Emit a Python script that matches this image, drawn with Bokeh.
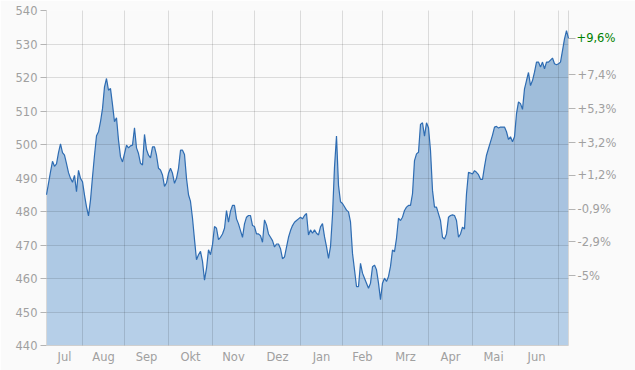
import numpy as np
import pandas as pd
from bokeh.plotting import figure
from bokeh.models import FixedTicker, LinearAxis, Range1d, CustomJSTickFormatter
from bokeh.embed import file_html
from bokeh.resources import INLINE

# ---------------- data ----------------
start_date = "2020-07-08"
end_date = "2021-07-08"
month_names = ["Jan", "Feb", "Mrz", "Apr", "Mai", "Jun", "Jul", "Aug", "Sep", "Okt", "Nov", "Dez"]

close = [
    # Jul 2020
    485.0, 488.4, 491.8, 495.0, 493.5, 494.2, 497.6, 500.2, 497.6, 496.8,
    494.3, 491.6, 489.9, 488.7, 490.8, 485.9, 492.3, 489.9,
    # Aug
    488.9, 484.9, 481.4, 478.7, 483.4, 490.3, 496.8, 502.6, 503.8, 506.8,
    510.7, 517.2, 519.7, 516.2, 516.7, 511.9, 506.8, 508.0, 501.3, 496.3, 494.8,
    # Sep
    497.3, 499.8, 499.0, 499.6, 499.8, 505.0, 499.0, 497.3, 494.4, 493.9,
    503.0, 498.5, 496.8, 496.0, 499.3, 499.3, 496.8, 492.9, 492.4, 490.9, 487.5, 488.5,
    # Oct
    491.4, 492.9, 491.4, 488.4, 489.9, 492.9, 498.3, 498.3, 497.0, 489.9,
    485.0, 483.0, 478.0, 471.6, 465.6, 467.1, 468.1, 465.1, 459.5, 463.0, 468.6, 467.1,
    # Nov
    470.1, 475.5, 475.0, 471.6, 472.3, 473.3, 475.0, 480.3, 476.8, 480.1,
    481.8, 481.8, 477.8, 476.3, 474.3, 472.3, 476.3, 478.3, 478.8, 478.8, 475.8,
    # Dec
    475.5, 473.3, 473.3, 472.8, 470.8, 477.5, 476.0, 473.3, 472.3, 471.3,
    469.4, 470.3, 470.3, 468.9, 465.9, 466.4, 469.4, 472.3, 474.3, 475.8,
    476.8, 477.3, 477.8,
    # Jan 2021
    478.3, 477.8, 478.8, 479.4, 473.0, 474.5, 473.5, 474.5, 473.5, 473.0,
    475.4, 476.4, 472.5, 469.5, 466.0, 469.5, 478.9, 493.3, 502.5, 487.8, 482.9,
    # Feb
    482.4, 481.4, 480.4, 479.9, 476.9, 467.5, 462.6, 457.6, 457.6, 464.5,
    461.6, 460.1, 458.6, 457.1, 458.6, 463.5, 464.0, 462.6, 458.6, 453.7,
    # Mar
    458.6, 460.1, 459.1, 460.6, 463.6, 468.5, 468.0, 472.0, 478.0, 477.3,
    478.3, 480.3, 481.3, 481.8, 481.8, 485.3, 495.2, 497.2, 497.7, 506.0,
    506.5, 502.5, 506.5,
    # Apr
    505.0, 498.2, 486.3, 481.3, 481.3, 479.3, 477.3, 472.3, 471.8, 473.3,
    478.3, 478.8, 479.0, 478.8, 477.3, 472.3, 473.3, 475.3, 474.8, 485.3, 491.7, 491.5,
    # May
    491.2, 492.2, 491.7, 491.0, 489.6, 489.6, 493.4, 496.8, 498.8, 500.8,
    502.8, 505.2, 505.4, 504.9, 505.2, 505.2, 505.2, 503.8, 501.5, 502.3, 500.8,
    # Jun
    502.3, 509.2, 512.7, 512.2, 510.5, 516.6, 519.1, 521.5, 517.6, 519.1,
    521.6, 524.6, 524.6, 523.1, 524.6, 522.6, 524.6, 524.6, 525.2, 525.8,
    524.1, 523.8,
    # Jul 2021
    524.1, 524.6, 528.0, 531.5, 534.0, 531.7,
]

y_ticks_left = [440, 450, 460, 470, 480, 490, 500, 510, 520, 530, 540]
pct_ticks = [7.4, 5.3, 3.2, 1.2, -0.9, -2.9, -5.0]

# ---------------- derived ----------------
dates = pd.bdate_range(start_date, end_date)
assert len(dates) == len(close), (len(dates), len(close))
idx = np.arange(len(close), dtype=float)
prices = np.array(close, dtype=float)

mkey = dates.year * 12 + dates.month
starts = [i for i in range(len(dates)) if i == 0 or mkey[i] != mkey[i - 1]]
bounds = starts + [len(dates)]
centers = []
names = []
for k in range(len(starts) - 1):  # last (partial) month has no label
    centers.append((bounds[k] + bounds[k + 1]) / 2.0)
    names.append(month_names[dates[starts[k]].month - 1])

base = float(prices[0])
last = float(prices[-1])
right_ticks = [last] + [base * (1 + p / 100.0) for p in pct_ticks]

y0, y1 = y_ticks_left[0], y_ticks_left[-1]

PCT_CODE = """
const p = Math.round((tick / base - 1) * 1000) / 10;
const s = String(Math.abs(p)).replace(".", ",");
return (p > 0 ? "+" : (p < 0 ? "-" : "")) + s + "%";
"""

# ---------------- figure ----------------
FONT = "DejaVu Sans"
GRAY = "#a0a0a0"
BG = "#fafafa"
FS = "11.5px"

p = figure(width=635, height=370, output_backend="svg", toolbar_location=None,
           x_range=Range1d(0, len(close) - 1), y_range=Range1d(y0, y1),
           min_border_left=46, min_border_right=67, min_border_top=10, min_border_bottom=25)
p.background_fill_color = BG
p.border_fill_color = BG
p.outline_line_color = None

# area with a soft vertical gradient (opaque base + stacked translucent tints)
p.varea(x=idx, y1=y0, y2=prices, fill_color="#b6cfe8", fill_alpha=1.0)
n_bands = 10
for k in range(1, n_bands):
    lev = y0 + k * (y1 - y0) / n_bands
    p.varea(x=idx, y1=lev, y2=np.maximum(prices, lev), fill_color="#78a0c8", fill_alpha=0.052)

ln = p.line(x=idx, y=prices, line_color="#2e6cb2", line_width=1.2)
ln.level = "overlay"

# grid: month boundaries and value lines
p.xgrid.ticker = FixedTicker(ticks=[float(s) for s in starts[1:]])
p.ygrid.ticker = FixedTicker(ticks=y_ticks_left[1:-1])
for g in (p.xgrid, p.ygrid):
    g.grid_line_color = "#000000"
    g.grid_line_alpha = 0.12
    g.level = "annotation"


def style_axis(ax):
    ax.minor_tick_line_color = None
    ax.minor_tick_out = 0
    ax.minor_tick_in = 0
    ax.major_tick_in = 0
    ax.major_label_text_color = GRAY
    ax.major_label_text_font = FONT
    ax.major_label_text_font_size = FS


# left axis
ya = p.yaxis[0]
style_axis(ya)
ya.ticker = FixedTicker(ticks=y_ticks_left)
ya.axis_line_color = "#d8d8d8"
ya.major_tick_line_color = "#b4b4b4"
ya.major_tick_out = 6
ya.major_label_standoff = 3

# bottom axis (month names centred in each month)
xa = p.xaxis[0]
style_axis(xa)
xa.ticker = FixedTicker(ticks=centers)
xa.formatter = CustomJSTickFormatter(args=dict(centers=centers, names=names), code="""
let b = 0;
for (let i = 0; i < centers.length; i++) {
  if (Math.abs(centers[i] - tick) < Math.abs(centers[b] - tick)) { b = i; }
}
return names[b];
""")
xa.axis_line_color = "#cfcfcf"
xa.major_tick_line_color = None
xa.major_tick_out = 0
xa.major_label_standoff = 4

# right axis: percent change vs first value (current value label left blank here)
ra = LinearAxis(ticker=FixedTicker(ticks=right_ticks),
                formatter=CustomJSTickFormatter(args=dict(base=base, last=last),
                                                code='if (Math.abs(tick - last) < 1e-9) { return ""; }' + PCT_CODE))
style_axis(ra)
ra.axis_line_color = "#d8d8d8"
ra.major_tick_line_color = "#b4b4b4"
ra.major_tick_out = 7
ra.major_label_standoff = 2
p.add_layout(ra, "right")

# second right axis: only the current value, in green, pulled back beside the first axis
RA_EXT = 52  # panel width taken by the first right axis
ga = LinearAxis(ticker=FixedTicker(ticks=[last]),
                formatter=CustomJSTickFormatter(args=dict(base=base), code=PCT_CODE))
style_axis(ga)
ga.axis_line_color = None
ga.major_tick_line_color = None
ga.major_tick_out = 0
ga.major_label_standoff = 9 - RA_EXT
ga.major_label_text_color = "#008000"
p.add_layout(ga, "right")

open("out.html", "w").write(file_html(p, INLINE))
